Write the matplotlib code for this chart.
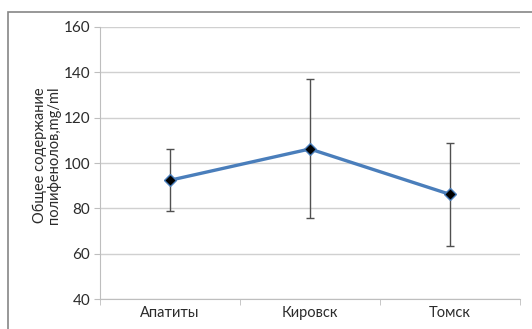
import matplotlib
matplotlib.use('Agg')
import matplotlib.pyplot as plt
from matplotlib.patches import Rectangle

# Total polyphenol content by site, mean with error range
sites = ['Апатиты', 'Кировск', 'Томск']
means = [92.4, 106.2, 86.2]
upper = [106.0, 137.1, 108.8]
lower = [78.7, 75.8, 63.4]

err_lo = [m - l for m, l in zip(means, lower)]
err_hi = [u - m for u, m in zip(upper, means)]

plt.rcParams['font.family'] = ['Lato', 'DejaVu Sans']

fig = plt.figure(figsize=(5.32, 3.29), dpi=100)
ax = fig.add_axes([0.188, 0.091, 0.789, 0.827])

# outer chart frame
fig.patches.append(Rectangle((7.5 / 532, -0.1), 1.1, 1 - 11.5 / 329 + 0.1,
                             transform=fig.transFigure, fill=False,
                             edgecolor='#868686', linewidth=1.2))

x = list(range(len(sites)))
ax.errorbar(x, means, yerr=[err_lo, err_hi], fmt='none', ecolor='#505050',
            elinewidth=1.0, capsize=3, capthick=1.0, zorder=2)
ax.plot(x, means, color='#4A7EBB', linewidth=2.4, marker='D', markersize=6,
        markerfacecolor='black', markeredgecolor='#4A7EBB', markeredgewidth=1.0,
        zorder=3)

ax.set_xlim(-0.5, 2.5)
ax.set_ylim(40, 160)
ax.set_yticks(range(40, 161, 20))
ax.set_xticks(x)
ax.set_xticklabels(sites)
ax.set_xticks([-0.5, 0.5, 1.5, 2.5], minor=True)

ax.grid(axis='y', color='#D0D0D0', linewidth=1.0)
ax.set_axisbelow(True)
for side in ['top', 'right']:
    ax.spines[side].set_visible(False)
ax.spines['left'].set_color('#BEBEBE')
ax.spines['bottom'].set_color('#BEBEBE')

ax.tick_params(axis='y', length=4, color='#BEBEBE', labelsize=11, labelcolor='#2b2b2b', pad=3)
ax.tick_params(axis='x', which='major', length=0, labelsize=10.5, labelcolor='#2b2b2b', pad=5)
ax.tick_params(axis='x', which='minor', length=4, color='#BEBEBE')

ax.set_ylabel('Общее содержание\nполифенолов,mg/ml', fontsize=10.5, color='#2b2b2b',
              linespacing=1.0)
ax.yaxis.set_label_coords(-0.092, 0.53)

fig.savefig('out.png', dpi=100)
